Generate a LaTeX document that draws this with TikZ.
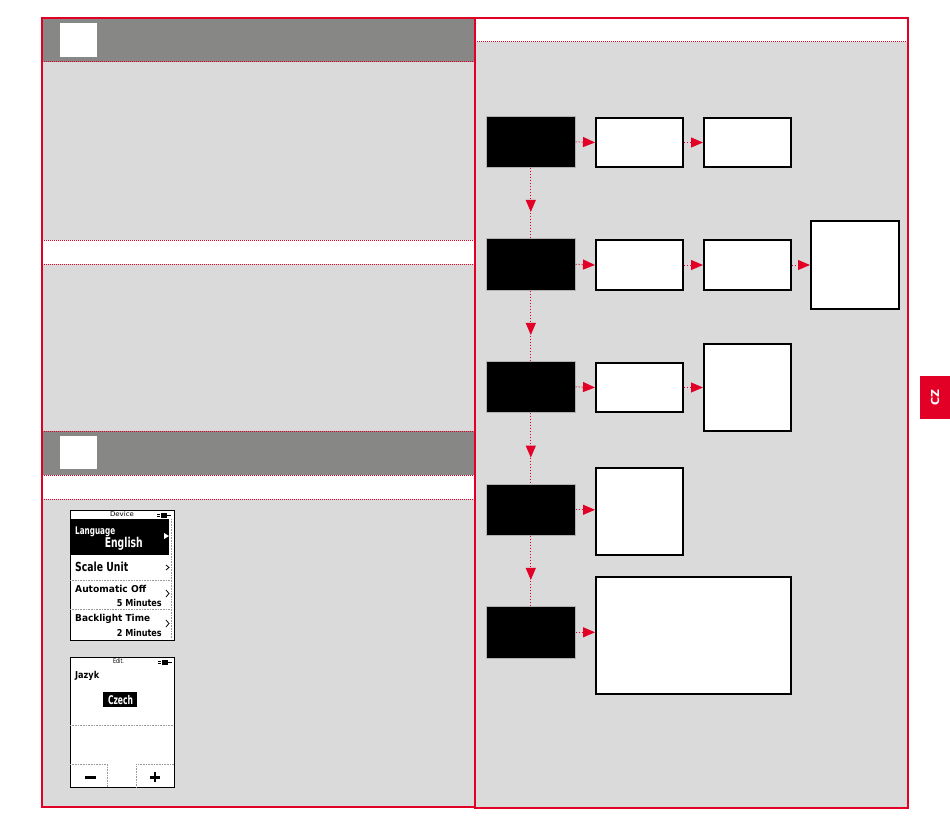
\documentclass[tikz,border=0pt]{standalone}
\usepackage{fontspec}
\usepackage{graphicx}
\setmainfont{DejaVu Sans}
\usetikzlibrary{arrows.meta,decorations.markings}
\definecolor{cred}{RGB}{226,0,38}
\definecolor{dgray}{RGB}{135,135,133}
\definecolor{lgray}{RGB}{218,218,218}
\newcommand\sw[2]{\resizebox{#1pt}{\height}{#2}}
\tikzset{
  blk/.style={draw=gray!60, line width=0.6pt, fill=black, minimum width=89pt, inner sep=0pt, anchor=north west},
  wbox/.style={draw=black, line width=2pt, fill=white, minimum width=87pt, inner sep=0pt, anchor=north west},
  harr/.style={draw=cred, line width=1pt, dash pattern=on 1pt off 2pt, -{Triangle[length=12pt,width=10pt]}},
  varr/.style={draw=cred, line width=1pt, dash pattern=on 1.5pt off 1.5pt, postaction={decorate},
    decoration={markings, mark=at position #1 with {\arrow[cred]{Triangle[length=12pt,width=10pt]}}}},
  varr/.default=0.63,
  rdot/.style={draw=cred, line width=1pt, dash pattern=on 1pt off 1pt},
  sdot/.style={draw=gray!80, line width=0.6pt, dash pattern=on 0.8pt off 0.8pt},
  stxt/.style={inner sep=0pt, font=\bfseries},
  border/.style={draw=cred, line width=1.2pt}
}
\begin{document}
\begin{tikzpicture}[x=1pt,y=-1pt]
\useasboundingbox (0,0) rectangle (950,837);
% left panel
\fill[lgray] (42,18) rectangle (475,807);
\fill[dgray] (42,18) rectangle (475,62);
\fill[white] (42,240) rectangle (475,264);
\fill[dgray] (42,431) rectangle (475,475);
\fill[white] (42,475) rectangle (475,499);
\fill[white] (60,23) rectangle (97,57);
\fill[white] (60,436) rectangle (97,469);
\draw[rdot] (42,62) -- (475,62);
\draw[rdot] (42,240) -- (475,240);
\draw[rdot] (42,264) -- (475,264);
\draw[rdot] (42,431) -- (475,431);
\draw[rdot] (42,475) -- (475,475);
\draw[rdot] (42,499) -- (475,499);
% right panel
\fill[lgray] (475,18) rectangle (908,808);
\fill[white] (475,18) rectangle (908,42);
\draw[rdot] (475,42) -- (908,42);
\draw[border] (42,18) rectangle (475,807);
\draw[border] (475,18) rectangle (908,808);
% CZ tab
\fill[cred] (920,376) rectangle (950,419);
\node[rotate=90, text=white, font=\bfseries\fontsize{11}{12}\selectfont, inner sep=0pt] (cz) at (935,397.5) {CZ};

% flow boxes
\node[blk, minimum height=51pt] (b1) at (486,116) {};
\node[blk, minimum height=52pt] (b2) at (486,238) {};
\node[blk, minimum height=51pt] (b3) at (486,361) {};
\node[blk, minimum height=51pt] (b4) at (486,484) {};
\node[blk, minimum height=52pt] (b5) at (486,606) {};
\node[wbox, minimum height=49pt] (w11) at (595,117) {};
\node[wbox, minimum height=49pt] (w12) at (703,117) {};
\node[wbox, minimum height=50pt] (w21) at (595,239) {};
\node[wbox, minimum height=50pt] (w22) at (703,239) {};
\node[wbox, minimum width=88pt, minimum height=88pt] (w23) at (810,220) {};
\node[wbox, minimum height=49pt] (w31) at (595,362) {};
\node[wbox, minimum height=87pt] (w32) at (703,343) {};
\node[wbox, minimum height=87pt] (w41) at (595,467) {};
\node[wbox, minimum width=195pt, minimum height=117pt] (w51) at (595,576) {};

\draw[harr] (b1.east) -- (w11.west);
\draw[harr] (w11.east) -- (w12.west);
\draw[harr] (b2.east) -- (w21.west);
\draw[harr] (w21.east) -- (w22.west);
\draw[harr] (w22.east) -- (w23.west);
\draw[harr] (b3.east) -- (w31.west);
\draw[harr] (w31.east) -- (w32.west);
\draw[harr] (b4.east) -- (b4.east -| w41.west);
\draw[harr] (b5.east) -- (b5.east -| w51.west);
\draw[varr] (b1.south) -- (b2.north);
\draw[varr] (b2.south) -- (b3.north);
\draw[varr] (b3.south) -- (b4.north);
\draw[varr] (b4.south) -- (b5.north);

% screen 1
\draw[fill=white, line width=1pt] (70,510) rectangle (174,640);
\node[inner sep=0pt, font=\fontsize{6.5}{7}\selectfont] (s1t) at (122,514.5) {\sw{24}{Device}};
\fill (161,513) rectangle (167,518);
\draw[line width=0.8pt] (167,515.5) -- (171,515.5);
\draw[line width=0.5pt] (157,514.3) -- (160,514.3) (157,516.7) -- (160,516.7);
\fill (70,519) rectangle (169,555);
\draw[sdot] (171.5,519) -- (171.5,639);
\node[stxt, anchor=base west, text=white, font=\bfseries\fontsize{10.5}{11}\selectfont] (s1a) at (75,534) {\sw{40}{Language}};
\node[stxt, anchor=base east, text=white, font=\bfseries\fontsize{13.5}{14}\selectfont] (s1b) at (143,547) {\sw{38}{English}};
\fill[white] (164,533) -- (169,536) -- (164,539) -- cycle;
\node[stxt, anchor=base west, font=\bfseries\fontsize{12.5}{13}\selectfont] (s1c) at (75,571) {\sw{53}{Scale Unit}};
\draw[line width=0.8pt] (166,565) -- (169,567.5) -- (166,570);
\draw[sdot] (70,580) -- (170,580);
\node[stxt, anchor=base west, font=\bfseries\fontsize{9.5}{10}\selectfont] (s1d) at (75,592) {\sw{71}{Automatic Off}};
\node[stxt, anchor=base east, font=\bfseries\fontsize{9.5}{10}\selectfont] (s1e) at (162,606) {\sw{45}{5 Minutes}};
\draw[line width=0.8pt] (166,590) -- (169,593.5) -- (166,597);
\draw[sdot] (70,609) -- (170,609);
\node[stxt, anchor=base west, font=\bfseries\fontsize{9.5}{10}\selectfont] (s1f) at (75,621) {\sw{75}{Backlight Time}};
\node[stxt, anchor=base east, font=\bfseries\fontsize{9.5}{10}\selectfont] (s1g) at (162,636) {\sw{45}{2 Minutes}};
\draw[line width=0.8pt] (166,620) -- (169,623.5) -- (166,627);

% screen 2
\draw[fill=white, line width=1pt] (70,657) rectangle (174,787);
\node[inner sep=0pt, font=\fontsize{6.5}{7}\selectfont] (s2t) at (118.5,661) {\sw{11}{Edit.}};
\fill (162,660) rectangle (168,664.5);
\draw[line width=0.8pt] (168,662.2) -- (172,662.2);
\draw[line width=0.5pt] (158,661) -- (161,661) (158,663.4) -- (161,663.4);
\node[stxt, anchor=base west, font=\bfseries\fontsize{9.5}{10}\selectfont] (s2a) at (75,678) {\sw{24}{Jazyk}};
\fill (103,692) rectangle (137,707);
\node[stxt, anchor=base, text=white, font=\bfseries\fontsize{12}{13}\selectfont] (s2b) at (120.5,704) {\sw{25}{Czech}};
\draw[sdot] (70,725) -- (174,725);
\draw[sdot] (70,764) -- (107,764) -- (107,787);
\draw[sdot] (174,764) -- (136,764) -- (136,787);
\fill (85,776) rectangle (96,778.5);
\fill (150,776) rectangle (160,778.5);
\fill (153.8,772) rectangle (156.2,782);
\end{tikzpicture}
\end{document}
